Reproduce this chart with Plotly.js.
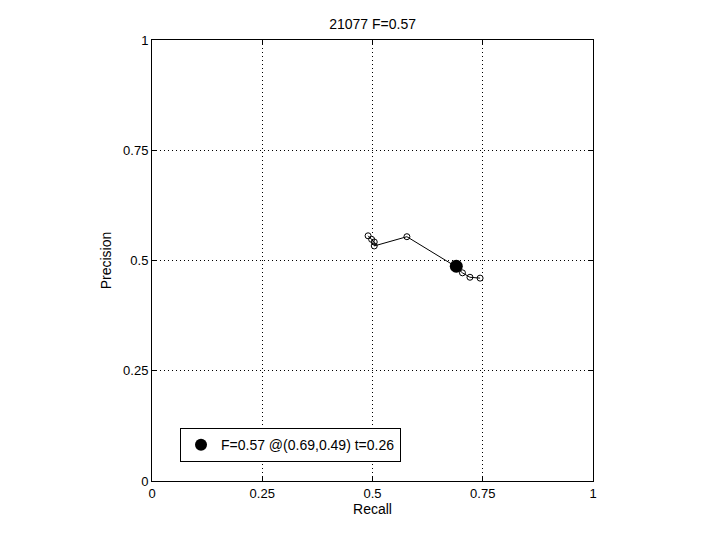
<!DOCTYPE html>
<html>
<head>
<meta charset="utf-8">
<script src="https://cdn.plot.ly/plotly-3.0.1.min.js"></script>
<style>html,body{margin:0;padding:0;background:#fff;}#chart{width:720px;height:540px;}</style>
</head>
<body>
<div id="chart"></div>
<script>
const recall = [0.490, 0.498, 0.504, 0.504, 0.578, 0.686, 0.704, 0.721, 0.744];
const precision = [0.556, 0.548, 0.542, 0.533, 0.554, 0.488, 0.472, 0.462, 0.460];
const bestRecall = [0.69];
const bestPrecision = [0.487];
const bestLabel = "F=0.57 @(0.69,0.49) t=0.26";
const chartTitle = "21077 F=0.57";
const tickVals = [0, 0.25, 0.5, 0.75, 1];
const tickText = ["0", "0.25", "0.5", "0.75", "1"];

const font = {family: "Liberation Sans, Arial, sans-serif", size: 13, color: "#000"};
const bigFont = {family: "Liberation Sans, Arial, sans-serif", size: 14, color: "#000"};

const traces = [
  {
    x: recall, y: precision, type: "scatter", mode: "lines+markers",
    line: {color: "#000", width: 1},
    marker: {symbol: "circle-open", size: 6, color: "#000", line: {width: 1, color: "#000"}},
    showlegend: false, hoverinfo: "skip"
  },
  {
    x: bestRecall, y: bestPrecision, type: "scatter", mode: "markers",
    marker: {symbol: "circle", size: 13, color: "#000"},
    name: bestLabel, showlegend: true
  }
];

const axisCommon = {
  range: [0, 1], tickvals: tickVals, ticktext: tickText,
  showgrid: true, gridcolor: "#000", griddash: "1px,3px", gridwidth: 1,
  zeroline: false, showline: true, linecolor: "#000", linewidth: 1, mirror: "ticks",
  ticks: "inside", ticklen: 5, tickcolor: "#000", tickfont: font, fixedrange: true
};

const layout = {
  width: 720, height: 540,
  paper_bgcolor: "#fff", plot_bgcolor: "#fff",
  margin: {l: 152, r: 127, t: 40, b: 59},
  font: font,
  title: {text: chartTitle, font: bigFont, x: 0.5175, xanchor: "center", y: 0.955, yanchor: "middle"},
  xaxis: Object.assign({}, axisCommon, {title: {text: "Recall", font: bigFont, standoff: 4}}),
  yaxis: Object.assign({}, axisCommon, {title: {text: "Precision", font: bigFont, standoff: 8}}),
  showlegend: true,
  legend: {
    x: 0.0635, y: 0.12, xanchor: "left", yanchor: "top",
    bgcolor: "#fff", bordercolor: "#000", borderwidth: 1,
    font: bigFont, itemsizing: "constant"
  }
};

Plotly.newPlot("chart", traces, layout, {displayModeBar: false, staticPlot: true});
</script>
</body>
</html>
